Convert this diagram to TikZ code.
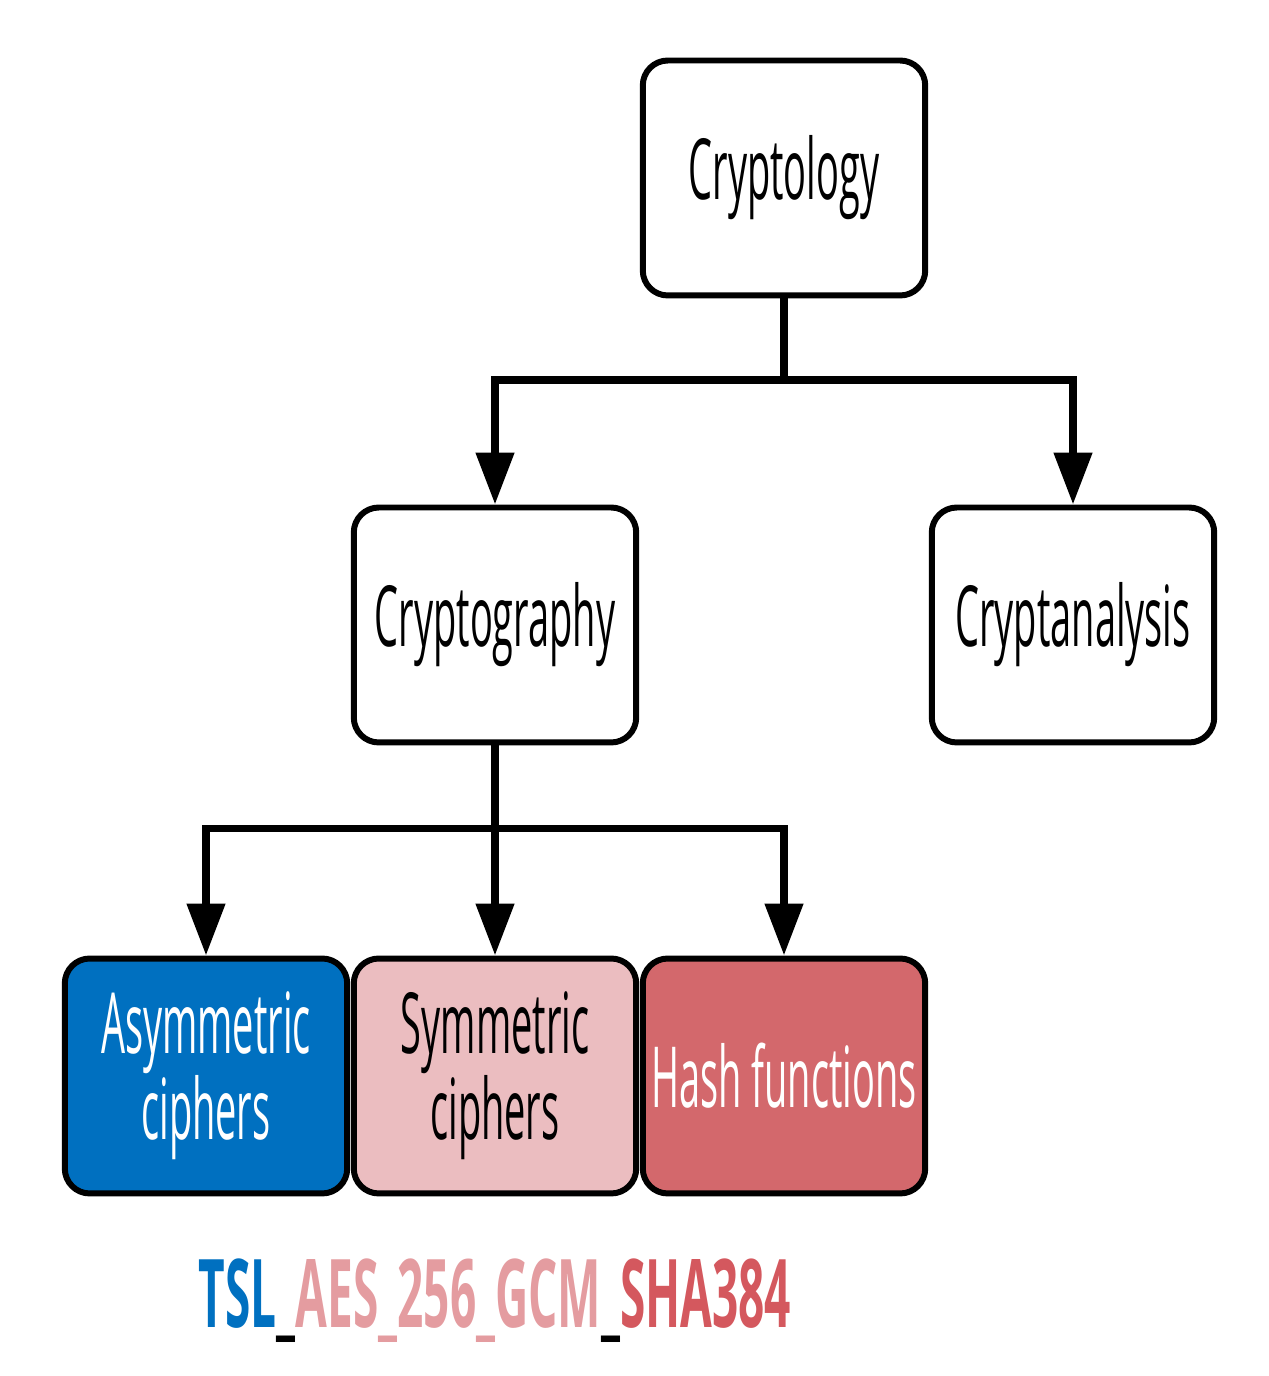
\documentclass[tikz,border=0pt]{standalone}
\usepackage{fontspec}
\setmainfont{Open Sans}[FakeStretch=0.45]
\newfontfamily\suitefont{Open Sans}[FakeStretch=0.485]
\usetikzlibrary{arrows.meta,positioning}
\definecolor{asymblue}{RGB}{0,112,192}
\definecolor{sympink}{RGB}{235,189,192}
\definecolor{hashred}{RGB}{211,104,108}
\definecolor{aespink}{RGB}{228,156,160}
\definecolor{shared}{RGB}{212,88,94}

\begin{document}
\begin{tikzpicture}[x=0.02cm,y=0.02cm,
  box/.style={draw,line width=3.4pt,rounded corners=0.5cm,minimum width=5.65cm,
    minimum height=4.7cm,align=center,inner sep=0pt,
    font=\fontsize{48}{46}\selectfont},
  arr/.style={line width=4.5pt,-{Triangle[width=0.74cm,length=1.04cm]}}]
  \useasboundingbox (0,0) rectangle (1268,1376);
  % upper levels
  \node[box] (logy) at (784,1198) {Cryptology};
  \node[box] (graphy) at (495,751) {Cryptography};
  \node[box] (analysis) at (1073,751) {Cryptanalysis};
  % cipher families
  \node[box,fill=asymblue,text=white] (asym) at (206,300) {Asymmetric\\ciphers};
  \node[box,fill=sympink] (sym) at (495,300) {Symmetric\\ciphers};
  \node[box,fill=hashred,text=white] (hash) at (784,300) {Hash functions};
  % connectors
  \draw[arr] (logy.south) -- ++(0,-82) -| (graphy.north);
  \draw[arr] (logy.south) -- ++(0,-82) -| (analysis.north);
  \draw[arr] (graphy.south) -- ++(0,-83) -| (asym.north);
  \draw[arr] (graphy.south) -- (sym.north);
  \draw[arr] (graphy.south) -- ++(0,-83) -| (hash.north);
  % cipher suite name
  \node[font=\suitefont\fontsize{54}{60}\selectfont\bfseries] (suite) at (495,75)
    {\textcolor{asymblue}{TSL}\_\textcolor{aespink}{AES\_256\_GCM}\_\textcolor{shared}{SHA384}};
\end{tikzpicture}
\end{document}
